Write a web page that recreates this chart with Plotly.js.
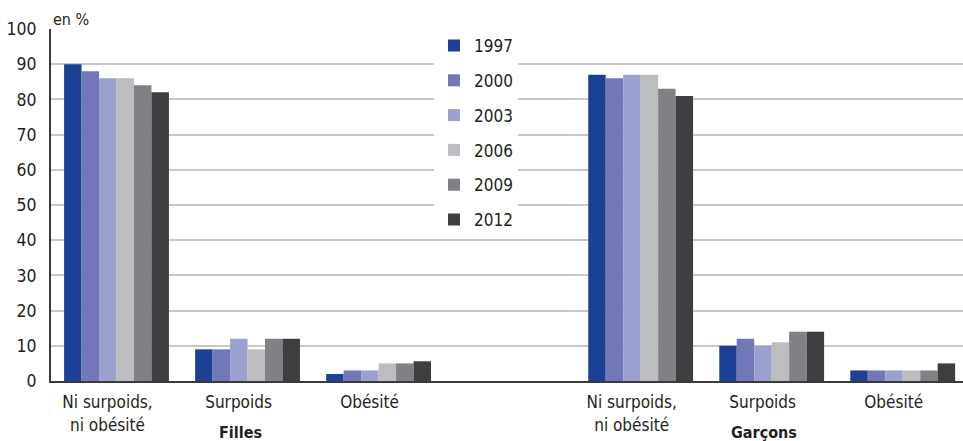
<!DOCTYPE html>
<html>
<head>
<meta charset="utf-8">
<script src="https://cdn.plot.ly/plotly-3.0.1.min.js"></script>
<style>
html,body{margin:0;padding:0;background:#fff;}
#chart{width:963px;height:441px;}
</style>
</head>
<body>
<div id="chart"></div>
<script>
// Data
const categories = ['Ni surpoids,<br>ni obésité', 'Surpoids', 'Obésité'];
const groups = ['Filles', 'Garçons'];
const years = ['1997', '2000', '2003', '2006', '2009', '2012'];
const filles1997 = [90, 9, 2];
const filles2000 = [88, 9, 3];
const filles2003 = [86, 12, 3];
const filles2006 = [86, 9, 5];
const filles2009 = [84, 12, 5];
const filles2012 = [82, 12, 5.6];
const garcons1997 = [87, 10, 3];
const garcons2000 = [86, 12, 3];
const garcons2003 = [87, 10, 3];
const garcons2006 = [87, 11, 3];
const garcons2009 = [83, 14, 3];
const garcons2012 = [81, 14, 5];
const colors = ['#1c4096', '#7277b8', '#9ba0cf', '#bcbdc1', '#808185', '#3e3e40'];

const fillesSeries = [filles1997, filles2000, filles2003, filles2006, filles2009, filles2012];
const garconsSeries = [garcons1997, garcons2000, garcons2003, garcons2006, garcons2009, garcons2012];

// positions: Filles categories at 0..2, an empty slot, Garçons at 4..6
const xFilles = categories.map((c, i) => i);
const xGarcons = categories.map((c, i) => i + categories.length + 1);
const xAll = xFilles.concat(xGarcons);

const FONT = '"DejaVu Sans Condensed", "Liberation Sans Narrow", sans-serif';

const traces = years.map((y, k) => ({
  type: 'bar',
  name: y,
  x: xAll,
  y: fillesSeries[k].concat(garconsSeries[k]),
  marker: {color: colors[k], line: {width: 0}},
  legendgroup: 'g' + y,
  hoverinfo: 'x+y+name'
}));

const layout = {
  width: 963,
  height: 441,
  margin: {l: 51, r: 0, t: 29, b: 60, pad: 0},
  paper_bgcolor: '#fff',
  plot_bgcolor: '#fff',
  font: {family: FONT, size: 17, color: '#231f20'},
  barmode: 'group',
  bargap: 0.2,
  bargroupgap: 0,
  showlegend: true,
  legend: {
    x: (434 - 51) / 912, xanchor: 'left',
    y: 1.003, yanchor: 'top',
    bgcolor: '#fff',
    borderwidth: 0,
    traceorder: 'grouped',
    tracegroupgap: 9.7,
    font: {family: FONT, size: 17, color: '#231f20'}
  },
  xaxis: {
    type: 'linear',
    range: [-0.5, 6.46],
    tickmode: 'array',
    tickvals: xAll,
    ticktext: categories.concat(categories),
    ticks: '',
    showgrid: false,
    zeroline: false,
    showline: true,
    linecolor: '#3a3a3a',
    linewidth: 2,
    ticklabelshift: -9,
    ticklabelstandoff: 5,
    tickfont: {family: FONT, size: 17, color: '#231f20'},
    fixedrange: true
  },
  yaxis: {
    range: [0, 100],
    tickmode: 'linear',
    tick0: 0,
    dtick: 10,
    ticks: '',
    showgrid: true,
    gridcolor: '#c8c8c8',
    gridwidth: 2,
    zeroline: false,
    showline: true,
    linecolor: '#3a3a3a',
    linewidth: 2,
    ticklabelstandoff: 9,
    tickfont: {family: FONT, size: 17.5, color: '#231f20'},
    fixedrange: true
  },
  annotations: [
    {text: 'en %', xref: 'paper', yref: 'paper', x: 0, y: 1, xanchor: 'left', yanchor: 'bottom',
     yshift: -2, showarrow: false, font: {family: FONT, size: 16, color: '#231f20'}},
    {text: '<b>' + groups[0] + '</b>', xref: 'x', yref: 'paper', x: xFilles[1], y: 0, xanchor: 'center', yanchor: 'top',
     xshift: -7, yshift: -40, showarrow: false, font: {family: FONT, size: 16, color: '#231f20'}},
    {text: '<b>' + groups[1] + '</b>', xref: 'x', yref: 'paper', x: xGarcons[1], y: 0, xanchor: 'center', yanchor: 'top',
     xshift: -8, yshift: -40, showarrow: false, font: {family: FONT, size: 16, color: '#231f20'}}
  ]
};

Plotly.newPlot('chart', traces, layout, {displayModeBar: false, staticPlot: true});
</script>
</body>
</html>
